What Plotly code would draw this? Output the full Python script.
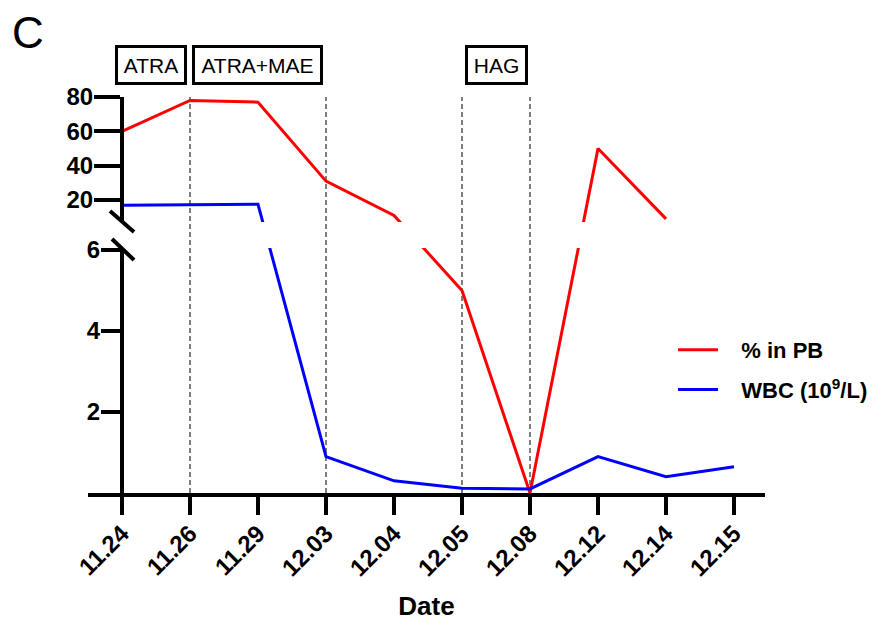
import plotly.graph_objects as go

# ---------------- data ----------------
dates = ["11.24", "11.26", "11.29", "12.03", "12.04", "12.05", "12.08", "12.12", "12.14", "12.15"]
pct_in_pb = [60, 78, 77, 31, 11, 5, 0, 50, 9, None]
wbc = [17, 17.3, 17.5, 0.9, 0.3, 0.12, 0.1, 0.9, 0.4, 0.65]

lower_ticks = [2, 4, 6]
upper_ticks = [20, 40, 60, 80]

phase_labels = ["ATRA", "ATRA+MAE", "HAG"]
phase_centers = [0.43, 1.99, 5.5]          # in category units
phase_widths = [66, 125, 57]               # box text widths (px)
phase_bounds = ["11.26", "12.03", "12.05", "12.08"]

# ---------------- broken-axis scale ----------------
LOW_MAX = 6.05            # top of lower segment (value units)
UP_MIN, UP_MAX = 7.2, 80  # upper segment range (value units)
UP_K = 1.7167 / 40.5      # upper unit size relative to lower unit
GAP = 0.64                # gap between segments (lower units)

UP_START = LOW_MAX + GAP
TOTAL = UP_START + (UP_MAX - UP_MIN) * UP_K


def scale(v):
    if v is None:
        return None
    if v <= LOW_MAX:
        return v
    return UP_START + (v - UP_MIN) * UP_K


xpos = list(range(len(dates)))
pb_c = [scale(v) for v in pct_in_pb]
wbc_c = [scale(v) for v in wbc]

FONT = "Liberation Sans, Arial, sans-serif"
RED = "#ff0000"
BLUE = "#0000ff"
PAD = "\u00a0\u00a0\u00a0"

fig = go.Figure()
for yax, show in (("y", True), ("y2", False)):
    fig.add_trace(go.Scatter(x=xpos, y=pb_c, mode="lines", yaxis=yax,
                             line=dict(color=RED, width=3),
                             name=PAD + "% in PB", legendgroup="pb", showlegend=show,
                             connectgaps=False, hoverinfo="skip"))
    fig.add_trace(go.Scatter(x=xpos, y=wbc_c, mode="lines", yaxis=yax,
                             line=dict(color=BLUE, width=3),
                             name=PAD + "WBC (10<sup>9</sup>/L)", legendgroup="wbc",
                             showlegend=show, hoverinfo="skip"))

# page body has an 8px margin: work in page pixels, shift by OFF
OFF = 8
W, H = 880 - OFF, 621 - OFF
PL, PR, PT, PB = 88, 765, 97, 493      # plot area edges in page pixels
L, T = PL - OFF, PT - OFF
R, B = W - (PR - OFF), H - (PB - OFF)
pw, ph = W - L - R, H - T - B
x_lo = -0.5
x_hi = x_lo + pw / 68.0
ypos_axis = (0 - x_lo) / (x_hi - x_lo)

lower_dom = [0, LOW_MAX / TOTAL]
upper_dom = [UP_START / TOTAL, 1]


def px2paper(px, py):
    return (px - PL) / pw, (PB - py) / ph


tickfont = dict(family=FONT, size=24, color="black", weight="bold")

fig.update_layout(
    width=W, height=H,
    margin=dict(l=L, r=R, t=T, b=B, pad=0, autoexpand=False),
    paper_bgcolor="white", plot_bgcolor="white",
    font=dict(family=FONT, color="black"),
    showlegend=True,
    legend=dict(x=px2paper(673, 0)[0], xanchor="left", y=px2paper(0, 370)[1], yanchor="middle",
                font=dict(family=FONT, size=22, color="black", weight="bold"),
                bgcolor="rgba(0,0,0,0)", traceorder="grouped", tracegroupgap=8,
                itemwidth=40),
    xaxis=dict(range=[x_lo, x_hi], tickmode="array", tickvals=xpos, ticktext=dates,
               tickangle=-45, tickfont=tickfont, showgrid=False, zeroline=False,
               showline=True, linecolor="black", linewidth=4,
               ticks="outside", ticklen=18, tickwidth=4, tickcolor="black",
               ticklabelstandoff=-5,
               anchor="y", automargin=False,
               title=dict(text="<b>Date</b>", font=dict(family=FONT, size=26, color="black"),
                          standoff=19)),
    yaxis=dict(domain=lower_dom, range=[0, LOW_MAX], tickmode="array",
               tickvals=[scale(v) for v in lower_ticks], ticktext=[str(v) for v in lower_ticks],
               tickfont=tickfont, showgrid=False, zeroline=False,
               showline=True, linecolor="black", linewidth=4,
               ticks="outside", ticklen=19, tickwidth=4, tickcolor="black",
               ticklabelstandoff=-4,
               anchor="free", position=ypos_axis, automargin=False),
    yaxis2=dict(domain=upper_dom, range=[UP_START, TOTAL], tickmode="array",
                tickvals=[scale(v) for v in upper_ticks], ticktext=[str(v) for v in upper_ticks],
                tickfont=tickfont, showgrid=False, zeroline=False,
                showline=True, linecolor="black", linewidth=4,
                ticks="outside", ticklen=26, tickwidth=4, tickcolor="black",
                ticklabelstandoff=-4,
                anchor="free", position=ypos_axis, automargin=False),
)

shapes = []
for d in phase_bounds:
    xi = dates.index(d)
    shapes.append(dict(type="line", xref="x", yref="paper", x0=xi, x1=xi, y0=0, y1=1,
                       line=dict(color="#555555", width=1.5, dash="5px,3px"), layer="below"))

# break marks on the y axis
for (ax, ay, bx, by) in [(110, 211, 134, 232), (112, 239, 134, 260)]:
    x0, y0 = px2paper(ax, ay)
    x1, y1 = px2paper(bx, by)
    shapes.append(dict(type="line", xref="paper", yref="paper", x0=x0, y0=y0, x1=x1, y1=y1,
                       line=dict(color="black", width=4)))
fig.update_layout(shapes=shapes)

annotations = []
for lab, cx, w in zip(phase_labels, phase_centers, phase_widths):
    annotations.append(dict(text=lab, x=cx, xref="x", y=px2paper(0, 65)[1], yref="paper",
                            xanchor="center", yanchor="middle", showarrow=False,
                            font=dict(family=FONT, size=21, color="black"),
                            width=w, height=34, bordercolor="black", borderwidth=3,
                            borderpad=0, bgcolor="white"))
cx, cy = px2paper(28, 32)
annotations.append(dict(text="C", x=cx, y=cy, xref="paper", yref="paper", showarrow=False,
                        xanchor="center", yanchor="middle",
                        font=dict(family=FONT, size=44, color="black")))
fig.update_layout(annotations=annotations)

fig.write_html("out.html")
